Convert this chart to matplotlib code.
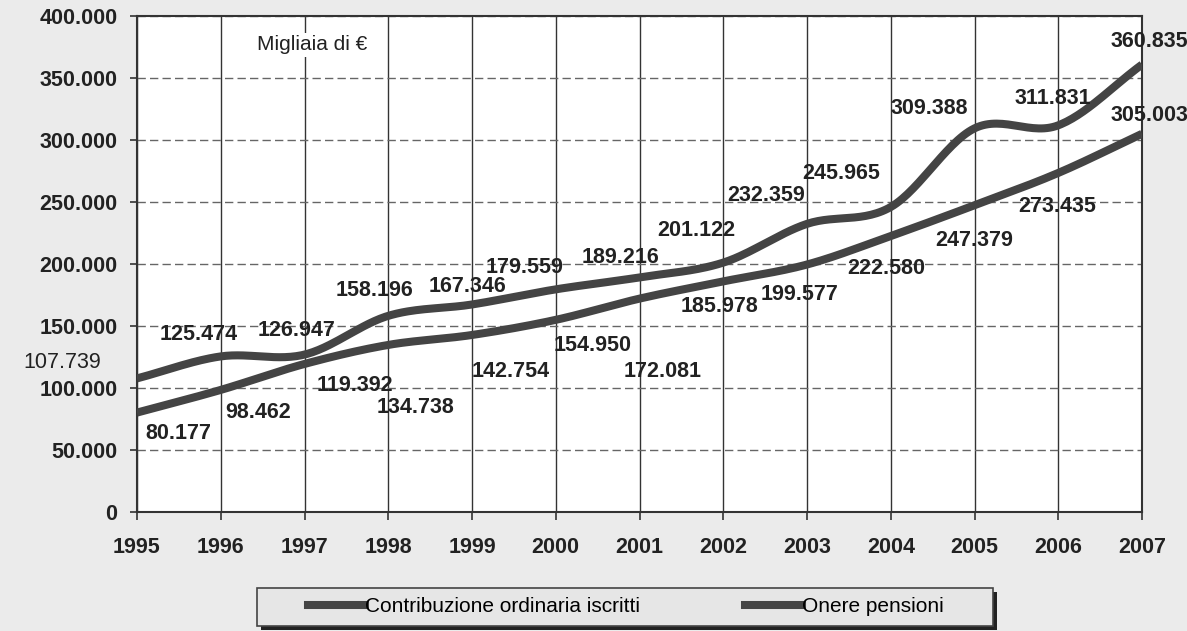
import numpy as np
import matplotlib
matplotlib.use("Agg")
import matplotlib.pyplot as plt
from matplotlib.patches import Rectangle
from matplotlib.lines import Line2D

plt.rcParams['font.family'] = ['Liberation Sans', 'DejaVu Sans']

years = [1995, 1996, 1997, 1998, 1999, 2000, 2001, 2002, 2003, 2004, 2005, 2006, 2007]
contribuzione = [107739, 125474, 126947, 158196, 167346, 179559, 189216, 201122,
                 232359, 245965, 309388, 311831, 360835]
onere = [80177, 98462, 119392, 134738, 142754, 154950, 172081, 185978,
         199577, 222580, 247379, 273435, 305003]
series_names = ["Contribuzione ordinaria iscritti", "Onere pensioni"]
yticks = list(range(0, 400001, 50000))

def fmt(v):
    return f"{v:,}".replace(",", ".")

# label offsets in pixels (dx, dy up)
off_c = [(-75, 16), (-22, 22), (-8, 24), (-14, 25), (-4, 18), (-31, 22), (-19, 20),
         (-27, 32), (-41, 28), (-50, 34), (-45, 20), (-5, 27), (7, 23)]
off_o = [(41, -21), (37, -23), (50, -22), (27, -63), (39, -37), (37, -26), (23, -73),
         (-4, -25), (-7, -30), (-4, -32), (0, -35), (-1, -34), (7, 18)]

def catmull(x, y, n=30):
    x = np.asarray(x, float); y = np.asarray(y, float)
    px = np.concatenate([[2*x[0]-x[1]], x, [2*x[-1]-x[-2]]])
    py = np.concatenate([[2*y[0]-y[1]], y, [2*y[-1]-y[-2]]])
    xs, ys = [], []
    t = np.linspace(0, 1, n, endpoint=False)
    for i in range(1, len(px)-2):
        for arr, out in ((px, xs), (py, ys)):
            p0, p1, p2, p3 = arr[i-1], arr[i], arr[i+1], arr[i+2]
            out.extend(0.5*((2*p1) + (-p0+p2)*t + (2*p0-5*p1+4*p2-p3)*t**2 + (-p0+3*p1-3*p2+p3)*t**3))
    xs.append(x[-1]); ys.append(y[-1])
    return np.array(xs), np.array(ys)

W, H = 1187, 631
fig = plt.figure(figsize=(W/100, H/100), dpi=100, facecolor='#ebebeb')
ax = fig.add_axes([137/W, 119/H, (1142-137)/W, (512-16)/H])
ax.set_facecolor('white')

line_color = '#444444'
for vals, name in zip([contribuzione, onere], series_names):
    sx, sy = catmull(years, vals)
    ax.plot(sx, sy, color=line_color, lw=5.8, solid_capstyle='butt', label=name, zorder=3)

for x, v, (dx, dy) in zip(years, contribuzione, off_c):
    ax.annotate(fmt(v), (x, v), xytext=(dx, dy), textcoords='offset pixels',
                ha='center', va='center', fontsize=15.5,
                fontweight='normal' if x == 1995 else 'bold', color='#222222',
                annotation_clip=False, zorder=4)
for x, v, (dx, dy) in zip(years, onere, off_o):
    ax.annotate(fmt(v), (x, v), xytext=(dx, dy), textcoords='offset pixels',
                ha='center', va='center', fontsize=15.5, fontweight='bold',
                color='#222222', annotation_clip=False, zorder=4)

ax.set_xlim(1995, 2007)
ax.set_ylim(0, 400000)
ax.set_xticks(years)
ax.set_xticklabels([str(y) for y in years], fontsize=15.5, fontweight='bold', color='#222222')
ax.set_yticks(yticks)
ax.set_yticklabels([fmt(v) for v in yticks], fontsize=15.5, fontweight='bold', color='#222222')
ax.tick_params(axis='x', length=6, pad=12, color='#333333', width=1.2)
ax.tick_params(axis='y', length=5, pad=9, color='#333333', width=1.2)
ax.grid(axis='x', color='#333333', lw=1.0, ls='-')
ax.grid(axis='y', color='#666666', lw=1.0, ls=(0, (6, 3)))
ax.set_axisbelow(True)
for s in ax.spines.values():
    s.set_color('#333333'); s.set_linewidth(1.5)

fig.text(312/W, 1 - 45/H, "Migliaia di €", ha='center', va='center',
         fontsize=15, color='#222222', zorder=5,
         bbox=dict(facecolor='white', edgecolor='none', pad=2))

# legend frame with shadow
fig.patches.append(Rectangle((261/W, 1 - 630/H), 736/W, 38/H, transform=fig.transFigure,
                             facecolor='#222222', edgecolor='none', zorder=1))
fig.patches.append(Rectangle((257/W, 1 - 626/H), 736/W, 38/H, transform=fig.transFigure,
                             facecolor='#e6e6e6', edgecolor='#444444', lw=1.2, zorder=2))
h1 = Line2D([], [], color=line_color, lw=5.8)
h2 = Line2D([], [], color=line_color, lw=5.8)
leg1 = fig.legend(handles=[h1], labels=[series_names[0]], loc='center left',
                  bbox_to_anchor=(308/W, 1 - 607/H), frameon=False, fontsize=15,
                  handlelength=2.75, handletextpad=0.0, borderaxespad=0, borderpad=0)
leg2 = fig.legend(handles=[h2], labels=[series_names[1]], loc='center left',
                  bbox_to_anchor=(745/W, 1 - 607/H), frameon=False, fontsize=15,
                  handlelength=2.75, handletextpad=0.0, borderaxespad=0, borderpad=0)
leg1.set_zorder(3); leg2.set_zorder(3)

fig.savefig('out.png', dpi=100, facecolor=fig.get_facecolor())
